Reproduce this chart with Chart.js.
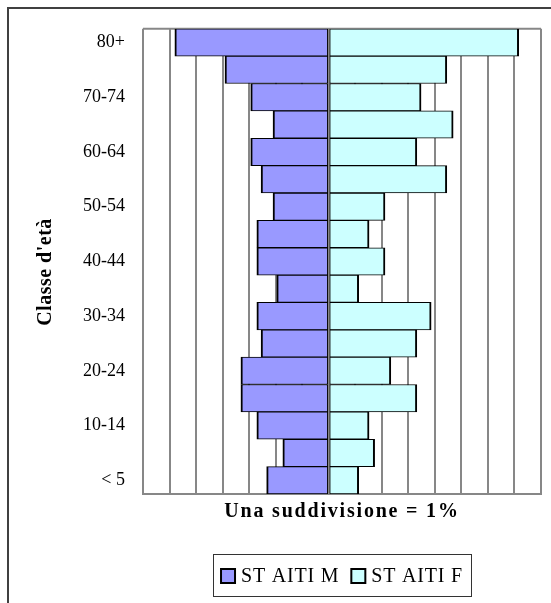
<!DOCTYPE html>
<html>
<head>
<meta charset="utf-8">
<script src="https://cdn.jsdelivr.net/npm/chart.js@4/dist/chart.umd.min.js"></script>
<style>
  html, body { margin: 0; padding: 0; background: #fff; }
  #wrap { width: 551px; height: 603px; position: relative; }
</style>
</head>
<body>
<div id="wrap"><canvas id="chart"></canvas></div>
<script>
// age classes, top to bottom
const ageLabels = ['80+', '75-79', '70-74', '65-69', '60-64', '55-59', '50-54', '45-49', '40-44',
  '35-39', '30-34', '25-29', '20-24', '15-19', '10-14', '5-9', '< 5'];
// percent of population per class
const maleValues = [5.80, 3.91, 2.94, 2.10, 2.94, 2.55, 2.10, 2.71, 2.71, 1.96, 2.71, 2.55, 3.31, 3.31, 2.71, 1.73, 2.34];
const femaleValues = [7.16, 4.45, 3.48, 4.69, 3.32, 4.45, 2.12, 1.52, 2.12, 1.13, 3.86, 3.32, 2.34, 3.32, 1.52, 1.73, 1.13];
const seriesNames = ['ST AITI M', 'ST AITI F'];
const seriesColors = ['#9999ff', '#ccffff'];
const xMin = -7, xMax = 8;
const xTitle = 'Una suddivisione = 1%';
const yTitle = "Classe d'età";

const serif = 'Liberation Serif';

const framePlugin = {
  id: 'frame',
  beforeDraw(chart) {
    const ctx = chart.ctx;
    ctx.save();
    ctx.strokeStyle = '#404040';
    ctx.lineWidth = 2;
    ctx.beginPath();
    ctx.moveTo(8, 603);
    ctx.lineTo(8, 8);
    ctx.lineTo(551, 8);
    ctx.stroke();
    ctx.restore();
  },
  beforeDatasetsDraw(chart) {
    const { ctx, chartArea } = chart;
    ctx.save();
    ctx.strokeStyle = '#878787';
    ctx.lineWidth = 2;
    ctx.beginPath();
    ctx.moveTo(chartArea.left, chartArea.top);
    ctx.lineTo(chartArea.right, chartArea.top);
    ctx.stroke();
    ctx.restore();
  },
  afterDraw(chart) {
    const { ctx, chartArea } = chart;
    const cx = (chartArea.left + chartArea.right) / 2;
    ctx.save();
    ctx.fillStyle = '#000';

    // x title
    ctx.font = 'bold 20px "' + serif + '"';
    ctx.letterSpacing = '1.8px';
    ctx.textAlign = 'center';
    ctx.textBaseline = 'middle';
    ctx.fillText(xTitle, cx, 512);

    // y title
    ctx.letterSpacing = '0.5px';
    ctx.save();
    ctx.translate(46, 272);
    ctx.rotate(-Math.PI / 2);
    ctx.fillText(yTitle, 0, 0);
    ctx.restore();

    // legend
    ctx.font = '20px "' + serif + '"';
    ctx.letterSpacing = '0.8px';
    const sq = 14, gap = 6, itemGap = 12, pad = 8;
    const widths = seriesNames.map(n => ctx.measureText(n).width);
    let total = 0;
    widths.forEach((w, i) => { total += sq + gap + w + (i ? itemGap : 0); });
    const boxL = Math.round(cx - total / 2 - pad) + 0.5;
    const boxR = Math.round(cx + total / 2 + pad) + 0.5;
    ctx.strokeStyle = '#333';
    ctx.lineWidth = 1;
    ctx.strokeRect(boxL, 554.5, boxR - boxL, 42);
    let x = cx - total / 2;
    const midY = 576;
    seriesNames.forEach((n, i) => {
      if (i) x += itemGap;
      ctx.fillStyle = seriesColors[i];
      ctx.fillRect(x, midY - sq / 2, sq, sq);
      ctx.strokeStyle = '#000';
      ctx.lineWidth = 2;
      ctx.strokeRect(x, midY - sq / 2, sq, sq);
      x += sq + gap;
      ctx.fillStyle = '#000';
      ctx.textAlign = 'left';
      ctx.fillText(n, x, midY + 1);
      x += widths[i];
    });
    ctx.restore();
  }
};

new Chart(document.getElementById('chart'), {
  type: 'bar',
  data: {
    labels: ageLabels,
    datasets: [
      {
        label: seriesNames[0],
        data: maleValues.map(v => -v),
        backgroundColor: seriesColors[0],
        borderColor: '#000',
        borderWidth: { top: 1, bottom: 1, left: 2, right: 1 },
        borderSkipped: false,
        barPercentage: 1,
        categoryPercentage: 1
      },
      {
        label: seriesNames[1],
        data: femaleValues,
        backgroundColor: seriesColors[1],
        borderColor: '#000',
        borderWidth: { top: 1, bottom: 1, left: 1, right: 2 },
        borderSkipped: false,
        barPercentage: 1,
        categoryPercentage: 1
      }
    ]
  },
  options: {
    indexAxis: 'y',
    responsive: true,
    maintainAspectRatio: false,
    animation: false,
    layout: { padding: { top: 28, right: 10, left: 0, bottom: 79 } },
    plugins: { legend: { display: false }, tooltip: { enabled: false } },
    scales: {
      x: {
        stacked: true,
        min: xMin,
        max: xMax,
        ticks: { display: false, stepSize: 1 },
        grid: { color: '#878787', lineWidth: 2, drawTicks: false },
        border: { display: true, color: '#878787', width: 2 },
        afterFit: s => { s.height = 30; }
      },
      y: {
        stacked: true,
        grid: { display: false, drawTicks: false },
        border: { display: false },
        ticks: {
          autoSkip: false,
          padding: 18,
          color: '#000',
          font: { family: serif, size: 18 },
          callback: function (v, i) { return i % 2 === 0 ? this.getLabelForValue(v) : ''; }
        },
        afterFit: s => { s.width = 143; }
      }
    }
  },
  plugins: [framePlugin]
});
</script>
</body>
</html>
